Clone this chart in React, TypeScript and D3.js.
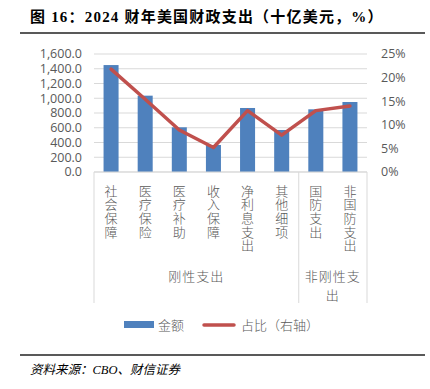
import React from "react";
import * as d3 from "d3";

const categories = ["社会保障", "医疗保险", "医疗补助", "收入保障", "净利息支出", "其他细项", "国防支出", "非国防支出"];
const amounts = [1450, 1035, 606, 366, 868, 570, 850, 949];
const shares = [21.8, 15.4, 8.9, 5.2, 13.0, 7.8, 13.0, 14.0];
const leftTicks = [0, 200, 400, 600, 800, 1000, 1200, 1400, 1600];
const rightTicks = [0, 5, 10, 15, 20, 25];
const groups = [
  { lines: ["刚性支出"], from: 0, to: 6 },
  { lines: ["非刚性支", "出"], from: 6, to: 8 },
];

const W = 430, H = 389;
const plotL = 94, plotR = 367, plotT = 54, plotB = 172;
const CJK = "'Noto Sans CJK SC', 'Noto Sans', sans-serif";
const GRAY = "#595959";

export default function App() {
  const x = d3.scaleBand<string>().domain(categories).range([plotL, plotR]).padding(0);
  const yL = d3.scaleLinear().domain([0, 1600]).range([plotB, plotT]);
  const yR = d3.scaleLinear().domain([0, 25]).range([plotB, plotT]);
  const step = x.step();
  const bw = step * 0.44;
  const cx = (c: string) => (x(c) as number) + step / 2;
  const line = d3.line<number>().x((_, i) => cx(categories[i])).y((d) => yR(d));
  const fmt = d3.format(",.1f");
  const boundaries = [plotL, x(categories[6]) as number, plotR];

  return (
    <svg width={W} height={H} style={{ position: "absolute", left: 0, top: 0, background: "#fff" }}>
      <text x={30} y={22} fontFamily={"'Liberation Serif', 'Noto Sans CJK SC', serif"} fontWeight="bold" fontSize={15} fill="#000" letterSpacing={1.2}>
        图 16：2024 财年美国财政支出（十亿美元，%）
      </text>
      <line x1={20} x2={425} y1={33} y2={33} stroke="#222" strokeWidth={1.3} />

      {leftTicks.map((t) => (
        <line key={"g" + t} x1={plotL} x2={plotR} y1={yL(t)} y2={yL(t)} stroke="#D9D9D9" strokeWidth={1} />
      ))}
      {leftTicks.map((t) => (
        <text key={"l" + t} x={82} y={yL(t)} dy="0.35em" textAnchor="end" fontFamily="'Open Sans', sans-serif" fontSize={12.5} fill={GRAY}>
          {fmt(t)}
        </text>
      ))}
      {rightTicks.map((t) => (
        <text key={"r" + t} x={381} y={yR(t)} dy="0.35em" textAnchor="start" fontFamily="'Open Sans', sans-serif" fontSize={12.5} fill={GRAY}>
          {t}%
        </text>
      ))}

      {categories.map((c, i) => (
        <rect key={"b" + c} x={cx(c) - bw / 2} y={yL(amounts[i])} width={bw} height={plotB - yL(amounts[i])} fill="#4F81BD" />
      ))}

      <path d={line(shares) || ""} fill="none" stroke="#C0504D" strokeWidth={3.5} strokeLinejoin="round" strokeLinecap="round" />

      <line x1={plotL} x2={plotR} y1={plotB} y2={plotB} stroke="#D9D9D9" strokeWidth={1} />
      {boundaries.map((b, i) => (
        <line key={"v" + i} x1={b} x2={b} y1={plotB} y2={303} stroke="#D9D9D9" strokeWidth={1} />
      ))}

      {categories.map((c) => (
        <g key={"c" + c}>
          {c.split("").map((ch, j) => (
            <text key={j} x={cx(c)} y={191 + j * 13.7} dy="0.35em" textAnchor="middle" fontFamily={CJK} fontWeight={300} fontSize={13} fill={GRAY}>
              {ch}
            </text>
          ))}
        </g>
      ))}

      {groups.map((g, i) => {
        const gx = ((x(categories[g.from]) as number) + (g.to < categories.length ? (x(categories[g.to]) as number) : plotR)) / 2;
        return (
          <g key={"grp" + i}>
            {g.lines.map((ln, j) => (
              <text key={j} x={gx} y={276 + j * 19} dy="0.35em" textAnchor="middle" fontFamily={CJK} fontWeight={300} fontSize={13} fill={GRAY} letterSpacing={1}>
                {ln}
              </text>
            ))}
          </g>
        );
      })}

      <rect x={124} y={321} width={30} height={7} fill="#4F81BD" />
      <text x={158} y={325} dy="0.35em" fontFamily={CJK} fontWeight={300} fontSize={13} fill={GRAY}>金额</text>
      <line x1={204} x2={234} y1={325} y2={325} stroke="#C0504D" strokeWidth={3.5} strokeLinecap="round" />
      <text x={241} y={325} dy="0.35em" fontFamily={CJK} fontWeight={300} fontSize={13} fill={GRAY}>占比（右轴）</text>

      <line x1={20} x2={425} y1={355} y2={355} stroke="#222" strokeWidth={1.3} />
      <text x={30} y={370} dy="0.35em" fontFamily={"'Liberation Serif', 'Noto Sans CJK SC', serif"} fontStyle="italic" fontSize={12.5} fill="#000">
        资料来源：CBO、财信证券
      </text>
    </svg>
  );
}
